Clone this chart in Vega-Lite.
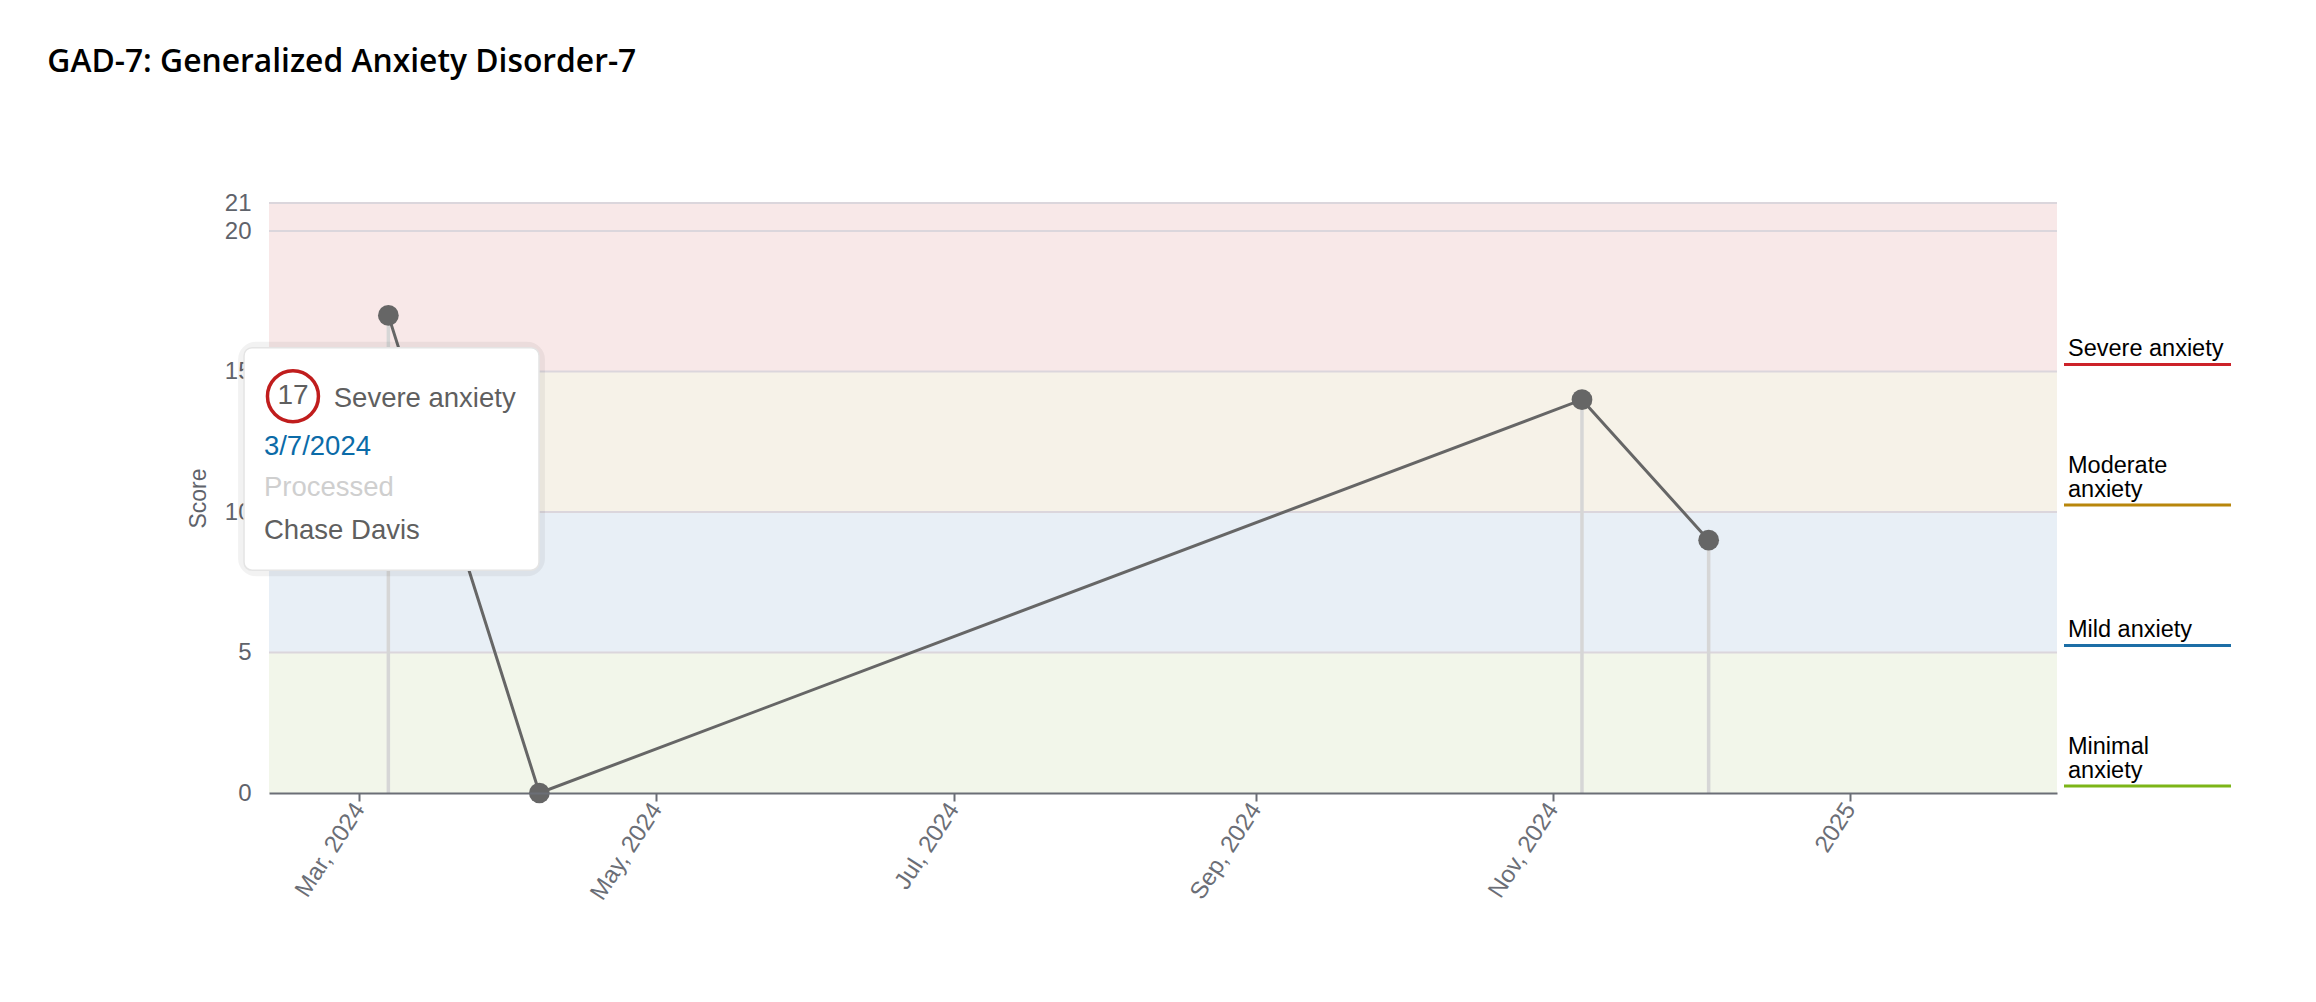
{
  "$schema": "https://vega.github.io/schema/vega-lite/v6.json",
  "padding": {"left": 47, "top": 47, "right": 10, "bottom": 10},
  "background": "#ffffff",
  "title": {
    "text": "GAD-7: Generalized Anxiety Disorder-7",
    "anchor": "start",
    "frame": "bounds",
    "font": "Open Sans",
    "fontSize": 31.8,
    "fontWeight": 600,
    "color": "#000000",
    "dx": -140,
    "offset": 112
  },
  "config": {"view": {"stroke": null}, "concat": {"spacing": 4}},
  "resolve": {"scale": {"x": "independent", "y": "independent", "color": "independent"}},
  "datasets": {
    "scores": [
      {"date": "2024-03-07T00:00:00", "score": 17},
      {"date": "2024-04-07T00:00:00", "score": 0},
      {"date": "2024-11-07T00:00:00", "score": 14},
      {"date": "2024-12-03T00:00:00", "score": 9}
    ],
    "bands": [
      {"level": "Minimal anxiety", "low": 0, "high": 5},
      {"level": "Mild anxiety", "low": 5, "high": 10},
      {"level": "Moderate anxiety", "low": 10, "high": 15},
      {"level": "Severe anxiety", "low": 15, "high": 21}
    ],
    "bounds": [
      {"value": 5},
      {"value": 10},
      {"value": 15},
      {"value": 20},
      {"value": 21}
    ],
    "legendrows": [
      {"level": "Severe anxiety", "low": 15, "label": ["Severe anxiety"]},
      {"level": "Moderate anxiety", "low": 10, "label": ["Moderate", "anxiety"]},
      {"level": "Mild anxiety", "low": 5, "label": ["Mild anxiety"]},
      {"level": "Minimal anxiety", "low": 0, "label": ["Minimal", "anxiety"]}
    ]
  },
  "hconcat": [
    {
      "width": 1788,
      "height": 590,
      "layer": [
        {
          "data": {"name": "bands"},
          "mark": {"type": "rect"},
          "encoding": {
            "y": {
              "field": "low",
              "type": "quantitative",
              "scale": {"domain": [0, 21], "nice": false},
              "axis": {
                "values": [0, 5, 10, 15, 20, 21],
                "title": "Score",
                "grid": false,
                "domain": false,
                "ticks": false,
                "labelOverlap": false,
                "labelFont": "Liberation Sans",
                "labelFontSize": 24,
                "labelColor": "#5f636b",
                "labelPadding": 18,
                "titleFont": "Liberation Sans",
                "titleFontSize": 23,
                "titleFontWeight": "normal",
                "titleColor": "#5f636b",
                "titlePadding": 14
              }
            },
            "y2": {"field": "high"},
            "color": {
              "field": "level",
              "type": "nominal",
              "scale": {
                "domain": ["Minimal anxiety", "Mild anxiety", "Moderate anxiety", "Severe anxiety"],
                "range": ["#f2f6ea", "#e8eff6", "#f6f2e8", "#f8e8e8"]
              },
              "legend": null
            }
          }
        },
        {
          "data": {"name": "bounds"},
          "mark": {"type": "rule", "color": "#dbd6dc", "strokeWidth": 2},
          "encoding": {"y": {"field": "value", "type": "quantitative"}}
        },
        {
          "data": {"name": "scores"},
          "mark": {"type": "rule", "color": "#d6d6d6", "strokeWidth": 3.5},
          "encoding": {
            "x": {
              "field": "date",
              "type": "temporal",
              "scale": {
                "domain": [
                  {"year": 2024, "month": 2, "date": 11, "hours": 12},
                  {"year": 2025, "month": 2, "date": 12, "hours": 12}
                ],
                "nice": false
              },
              "axis": {
                "values": [
                  {"year": 2024, "month": 3, "date": 1},
                  {"year": 2024, "month": 5, "date": 1},
                  {"year": 2024, "month": 7, "date": 1},
                  {"year": 2024, "month": 9, "date": 1},
                  {"year": 2024, "month": 11, "date": 1},
                  {"year": 2025, "month": 1, "date": 1}
                ],
                "labelExpr": "month(datum.value) === 0 ? timeFormat(datum.value, '%Y') : timeFormat(datum.value, '%b, %Y')",
                "title": null,
                "grid": false,
                "zindex": 1,
                "labelAngle": -57,
                "labelFont": "Liberation Sans",
                "labelFontSize": 24,
                "labelColor": "#6b6e76",
                "labelPadding": 4,
                "labelFlush": false,
                "labelOverlap": false,
                "domainColor": "#6b6e76",
                "domainWidth": 2,
                "tickColor": "#6b6e76",
                "tickWidth": 2,
                "tickSize": 8
              }
            },
            "y": {"field": "score", "type": "quantitative"},
            "y2": {"datum": 0}
          }
        },
        {
          "data": {"name": "scores"},
          "mark": {"type": "line", "color": "#666666", "strokeWidth": 3},
          "encoding": {
            "x": {"field": "date", "type": "temporal"},
            "y": {"field": "score", "type": "quantitative"}
          }
        },
        {
          "data": {"name": "scores"},
          "mark": {"type": "point", "filled": true, "size": 430, "color": "#666666", "opacity": 1},
          "encoding": {
            "x": {"field": "date", "type": "temporal"},
            "y": {"field": "score", "type": "quantitative"}
          }
        },
        {
          "data": {"values": [{}]},
          "mark": {"type": "rect", "fill": "#000000", "fillOpacity": 0, "stroke": "#000000", "strokeOpacity": 0.05, "strokeWidth": 12, "cornerRadius": 12},
          "encoding": {
            "x": {"datum": {"year": 2024, "month": 2, "date": 6, "hours": 9}, "type": "temporal"},
            "x2": {"datum": {"year": 2024, "month": 4, "date": 6, "hours": 22}},
            "y": {"datum": 15.85},
            "y2": {"datum": 7.93}
          }
        },
        {
          "data": {"values": [{}]},
          "mark": {"type": "rect", "fill": "#ffffff", "stroke": "#e4e4e4", "strokeWidth": 1.5, "cornerRadius": 8},
          "encoding": {
            "x": {"datum": {"year": 2024, "month": 2, "date": 6, "hours": 9}, "type": "temporal"},
            "x2": {"datum": {"year": 2024, "month": 4, "date": 6, "hours": 22}},
            "y": {"datum": 15.85},
            "y2": {"datum": 7.93}
          }
        },
        {
          "data": {"values": [{}]},
          "mark": {"type": "point", "shape": "circle", "size": 2600, "filled": false, "fill": "#ffffff", "fillOpacity": 1, "stroke": "#c01d1d", "strokeWidth": 3.5, "opacity": 1},
          "encoding": {
            "x": {"datum": {"year": 2024, "month": 2, "date": 16, "hours": 10}, "type": "temporal"},
            "y": {"datum": 14.12}
          }
        },
        {
          "data": {"values": [{}]},
          "mark": {"type": "text", "text": "17", "font": "Liberation Sans", "fontSize": 28, "color": "#5f5f5f", "align": "center", "baseline": "middle"},
          "encoding": {
            "x": {"datum": {"year": 2024, "month": 2, "date": 16, "hours": 10}, "type": "temporal"},
            "y": {"datum": 14.12}
          }
        },
        {
          "data": {"values": [{}]},
          "mark": {"type": "text", "text": "Severe anxiety", "font": "Liberation Sans", "fontSize": 27.5, "color": "#5f5f5f", "align": "left", "baseline": "alphabetic"},
          "encoding": {
            "x": {"datum": {"year": 2024, "month": 2, "date": 24, "hours": 19}, "type": "temporal"},
            "y": {"datum": 13.74}
          }
        },
        {
          "data": {"values": [{}]},
          "mark": {"type": "text", "text": "3/7/2024", "font": "Liberation Sans", "fontSize": 27.5, "color": "#0b6ba8", "align": "left", "baseline": "alphabetic"},
          "encoding": {
            "x": {"datum": {"year": 2024, "month": 2, "date": 10, "hours": 11}, "type": "temporal"},
            "y": {"datum": 12.04}
          }
        },
        {
          "data": {"values": [{}]},
          "mark": {"type": "text", "text": "Processed", "font": "Liberation Sans", "fontSize": 27.5, "color": "#cfcfcf", "align": "left", "baseline": "alphabetic"},
          "encoding": {
            "x": {"datum": {"year": 2024, "month": 2, "date": 10, "hours": 11}, "type": "temporal"},
            "y": {"datum": 10.56}
          }
        },
        {
          "data": {"values": [{}]},
          "mark": {"type": "text", "text": "Chase Davis", "font": "Liberation Sans", "fontSize": 27.5, "color": "#5f5f5f", "align": "left", "baseline": "alphabetic"},
          "encoding": {
            "x": {"datum": {"year": 2024, "month": 2, "date": 10, "hours": 11}, "type": "temporal"},
            "y": {"datum": 9.05}
          }
        }
      ]
    },
    {
      "width": 167,
      "height": 590,
      "data": {"name": "legendrows"},
      "layer": [
        {
          "mark": {"type": "rule", "strokeWidth": 3, "yOffset": -7},
          "encoding": {
            "x": {"datum": 0, "type": "quantitative", "scale": {"domain": [0, 1], "nice": false, "zero": false}, "axis": null},
            "x2": {"datum": 1},
            "y": {"field": "low", "type": "quantitative", "scale": {"domain": [0, 21], "nice": false}, "axis": null},
            "color": {
              "field": "level",
              "type": "nominal",
              "scale": {
                "domain": ["Minimal anxiety", "Mild anxiety", "Moderate anxiety", "Severe anxiety"],
                "range": ["#7cb518", "#1c6ea6", "#b8860b", "#cc2229"]
              },
              "legend": null
            }
          }
        },
        {
          "transform": [{"filter": "length(datum.label) == 1"}],
          "mark": {"type": "text", "align": "left", "baseline": "bottom", "font": "Liberation Sans", "fontSize": 23.5, "lineHeight": 23.5, "color": "#000000", "dx": 4, "yOffset": -10.5},
          "encoding": {
            "x": {"datum": 0, "type": "quantitative"},
            "y": {"field": "low", "type": "quantitative"},
            "text": {"field": "label"}
          }
        },
        {
          "transform": [{"filter": "length(datum.label) == 2"}],
          "mark": {"type": "text", "align": "left", "baseline": "bottom", "font": "Liberation Sans", "fontSize": 23.5, "lineHeight": 23.5, "color": "#000000", "dx": 4, "yOffset": -34},
          "encoding": {
            "x": {"datum": 0, "type": "quantitative"},
            "y": {"field": "low", "type": "quantitative"},
            "text": {"field": "label"}
          }
        }
      ]
    }
  ]
}
